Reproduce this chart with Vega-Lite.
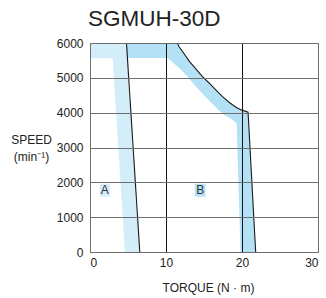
{
  "$schema": "https://vega.github.io/schema/vega-lite/v6.json",
  "width": 228,
  "height": 209,
  "autosize": "none",
  "padding": {"left": 90, "top": 43, "right": 8, "bottom": 46},
  "background": "white",
  "title": {"text": "SGMUH-30D", "fontSize": 22.5, "font": "Liberation Sans", "fontWeight": "normal", "color": "#222", "anchor": "start", "frame": "group", "dx": -2, "offset": 7},
  "config": {
    "view": {"stroke": "#6a6a6a", "strokeWidth": 1},
    "font": "Liberation Sans"
  },
  "datasets": {
    "bands": [
      {"band": "A", "speed": 0, "t1": 4.6, "t2": 6.55},
      {"band": "A", "speed": 5559, "t1": 2.97, "t2": 4.93},
      {"band": "A", "speed": 5561, "t1": 0, "t2": 4.93},
      {"band": "A", "speed": 6000, "t1": 0, "t2": 4.8},
      {"band": "B", "speed": 0, "t1": 19.8, "t2": 21.8},
      {"band": "B", "speed": 3690, "t1": 19.3, "t2": 20.88},
      {"band": "B", "speed": 3790, "t1": 18.8, "t2": 20.86},
      {"band": "B", "speed": 3957, "t1": 17.5, "t2": 20.81},
      {"band": "B", "speed": 4014, "t1": 17.23, "t2": 20.8},
      {"band": "B", "speed": 4080, "t1": 16.92, "t2": 19.9},
      {"band": "B", "speed": 4157, "t1": 16.56, "t2": 19.2},
      {"band": "B", "speed": 4300, "t1": 15.89, "t2": 18.3},
      {"band": "B", "speed": 4465, "t1": 15.16, "t2": 17.4},
      {"band": "B", "speed": 4655, "t1": 14.33, "t2": 16.55},
      {"band": "B", "speed": 4845, "t1": 13.56, "t2": 15.7},
      {"band": "B", "speed": 5035, "t1": 12.83, "t2": 14.8},
      {"band": "B", "speed": 5250, "t1": 11.9, "t2": 13.95},
      {"band": "B", "speed": 5480, "t1": 10.68, "t2": 13.05},
      {"band": "B", "speed": 5569, "t1": 10.2, "t2": 12.77},
      {"band": "B", "speed": 5571, "t1": 4.93, "t2": 12.77},
      {"band": "B", "speed": 5750, "t1": 4.89, "t2": 12.2},
      {"band": "B", "speed": 5900, "t1": 4.83, "t2": 11.7},
      {"band": "B", "speed": 6000, "t1": 4.8, "t2": 11.5}
    ],
    "curves": [
      {"curve": "A", "i": 1, "t1": 4.8, "speed": 6000},
      {"curve": "A", "i": 2, "t1": 6.55, "speed": 0},
      {"curve": "B", "i": 1, "t1": 11.5, "speed": 6000},
      {"curve": "B", "i": 2, "t1": 11.7, "speed": 5900},
      {"curve": "B", "i": 3, "t1": 12.2, "speed": 5750},
      {"curve": "B", "i": 4, "t1": 13.05, "speed": 5480},
      {"curve": "B", "i": 5, "t1": 13.95, "speed": 5250},
      {"curve": "B", "i": 6, "t1": 14.8, "speed": 5035},
      {"curve": "B", "i": 7, "t1": 15.7, "speed": 4845},
      {"curve": "B", "i": 8, "t1": 16.55, "speed": 4655},
      {"curve": "B", "i": 9, "t1": 17.4, "speed": 4465},
      {"curve": "B", "i": 10, "t1": 18.3, "speed": 4300},
      {"curve": "B", "i": 11, "t1": 19.2, "speed": 4157},
      {"curve": "B", "i": 12, "t1": 19.9, "speed": 4080},
      {"curve": "B", "i": 13, "t1": 20.8, "speed": 4014},
      {"curve": "B", "i": 14, "t1": 21.8, "speed": 0}
    ],
    "boxes": [
      {"band": "A", "t1": 1.3, "t2": 2.6, "speed": 1590, "speed2": 1960},
      {"band": "B", "t1": 13.8, "t2": 15.2, "speed": 1590, "speed2": 1960}
    ],
    "letters": [
      {"band": "A", "t1": 1.95, "speed": 1775},
      {"band": "B", "t1": 14.5, "speed": 1775}
    ]
  },
  "encoding": {
    "y": {"field": "speed", "type": "quantitative", "scale": {"domain": [0, 6000], "nice": false},
      "axis": {"title": ["SPEED", "(min⁻¹)"], "values": [0, 1000, 2000, 3000, 4000, 5000, 6000], "format": "d", "labelOverlap": false, "zindex": 1,
        "grid": true, "gridColor": "#6e6e6e", "gridWidth": 1.1, "ticks": false, "domain": false,
        "labelFontSize": 12, "labelColor": "#222", "labelPadding": 7,
        "titleAngle": 0, "titleAlign": "center", "titleBaseline": "alphabetic", "titleX": -59, "titleY": 100,
        "titleFontSize": 12, "titleFontWeight": "normal", "titleColor": "#222", "titleLineHeight": 17}},
    "x": {"field": "t1", "type": "quantitative", "stack": null, "scale": {"domain": [0, 30], "nice": false},
      "axis": {"title": "TORQUE (N · m)", "values": [0, 10, 20, 30], "zindex": 1, "labelOverlap": false,
        "grid": true, "gridColor": {"condition": {"test": "datum.value == 10 || datum.value == 20", "value": "#111"}, "value": "#6e6e6e"},
        "gridWidth": 1, "ticks": false, "domain": false,
        "labelFontSize": 12, "labelColor": "#222", "labelPadding": 5,
        "titleFontSize": 12, "titleFontWeight": "normal", "titleColor": "#222",
        "titleBaseline": "alphabetic", "titleY": 39, "titleX": 118}}
  },
  "layer": [
    {
      "data": {"name": "bands"},
      "mark": {"type": "area", "orient": "horizontal", "opacity": 1},
      "encoding": {
        "x2": {"field": "t2"},
        "color": {"field": "band", "type": "nominal", "scale": {"domain": ["A", "B"], "range": ["#d3edf9", "#b5e1f6"]}, "legend": null}
      }
    },
    {
      "data": {"name": "boxes"},
      "mark": {"type": "rect"},
      "encoding": {
        "x2": {"field": "t2"},
        "y2": {"field": "speed2"},
        "color": {"field": "band", "type": "nominal", "legend": null}
      }
    },
    {
      "data": {"name": "letters"},
      "mark": {"type": "text", "fontSize": 12, "color": "#333", "baseline": "middle", "align": "center", "font": "Liberation Sans"},
      "encoding": {
        "text": {"field": "band"}
      }
    },
    {
      "data": {"name": "curves"},
      "mark": {"type": "line", "color": "#1a1a1a", "strokeWidth": 1.1},
      "encoding": {
        "detail": {"field": "curve"},
        "order": {"field": "i", "type": "quantitative"}
      }
    }
  ]
}
